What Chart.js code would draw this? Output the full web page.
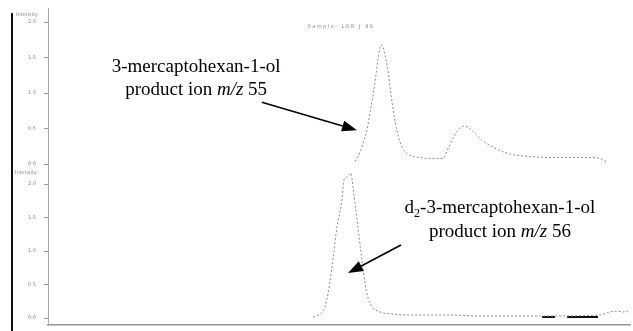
<!DOCTYPE html>
<html>
<head>
<meta charset="utf-8">
<script src="https://cdn.jsdelivr.net/npm/chart.js@4.4.0/dist/chart.umd.min.js"></script>
<style>
  html, body { margin: 0; padding: 0; background: #fff; }
  #wrap { position: relative; width: 633px; height: 331px; }
</style>
</head>
<body>
<div id="wrap"><canvas id="c" width="633" height="331"></canvas></div>
<script>
// retention time (min) and response
const topTimes = [32.555, 32.572, 32.586, 32.596, 32.607, 32.617, 32.627, 32.634, 32.641, 32.646,
  32.658, 32.668, 32.679, 32.689, 32.699, 32.710, 32.723, 32.737, 32.754, 32.778,
  32.806, 32.837, 32.857, 32.875, 32.892, 32.909, 32.923, 32.943, 32.971, 32.991,
  33.019, 33.043, 33.070, 33.112, 33.156, 33.225, 33.284, 33.363, 33.397, 33.421];
const topVals = [0.035, 0.163, 0.333, 0.475, 0.730, 0.972, 1.255, 1.468, 1.638, 1.681,
  1.539, 1.326, 0.972, 0.688, 0.475, 0.305, 0.191, 0.135, 0.106, 0.092,
  0.078, 0.078, 0.078, 0.220, 0.362, 0.475, 0.532, 0.518, 0.418, 0.333,
  0.262, 0.206, 0.163, 0.121, 0.106, 0.092, 0.092, 0.092, 0.078, 0.021];

const botTimes = [32.411, 32.435, 32.452, 32.466, 32.479, 32.493, 32.510, 32.517, 32.527, 32.541,
  32.548, 32.558, 32.569, 32.579, 32.593, 32.610, 32.641, 32.686, 32.734, 32.778,
  32.871, 32.985, 33.098, 33.191, 33.397, 33.431, 33.455, 33.476, 33.493];
const botVals = [0.015, 0.060, 0.164, 0.463, 0.866, 1.358, 1.761, 2.060, 2.104, 2.164,
  1.955, 1.612, 1.209, 0.866, 0.418, 0.194, 0.090, 0.060, 0.045, 0.045,
  0.045, 0.030, 0.030, 0.030, 0.045, 0.090, 0.104, 0.090, 0.104];

// baseline markers on the lower trace
const markTimes = [33.198, 33.242, 33.263, 33.284, 33.390];
const markVals = [0.015, 0.015, null, 0.015, 0.015];

const timeTicks = [31.55, 31.85, 32.15, 32.45, 32.75, 33.05, 33.35];
const topTicks = [0, 0.5, 1.0, 1.5, 2.0];
const botTicks = [0, 0.5, 1.0, 1.5, 2.0];
const sampleName = 'Sample: LOR J 98';
const axisName = 'Intensity';

function pts(xs, ys) {
  return xs.map((t, i) => ({ x: t, y: ys[i] }));
}

// callouts: text block + arrow, placed in data space of their panel
const callouts = [
  { axis: 'yTop', t: 32.009, v: 1.298,
    lines: [[{ s: '3-mercaptohexan-1-ol' }],
            [{ s: 'product ion ' }, { s: 'm/z', it: true }, { s: ' 55' }]],
    from: [32.235, 0.872], to: [32.562, 0.475] },
  { axis: 'yBot', t: 33.053, v: 1.567,
    lines: [[{ s: 'd' }, { s: '2', sub: true }, { s: '-3-mercaptohexan-1-ol' }],
            [{ s: 'product ion ' }, { s: 'm/z', it: true }, { s: ' 56' }]],
    from: [32.713, 1.090], to: [32.531, 0.672] }
];

const FS = 19;
function partFont(p) {
  const size = p.sub ? Math.round(FS * 0.65) : FS;
  return (p.it ? 'italic ' : '') + size + 'px "Liberation Serif", "Times New Roman", serif';
}

function drawLine(ctx, parts, cx, base) {
  let w = 0;
  parts.forEach(p => { ctx.font = partFont(p); p.w = ctx.measureText(p.s).width; w += p.w; });
  let x = cx - w / 2;
  parts.forEach(p => {
    ctx.font = partFont(p);
    ctx.fillText(p.s, x, base + (p.sub ? FS * 0.22 : 0));
    x += p.w;
  });
}

function arrow(ctx, x1, y1, x2, y2) {
  const a = Math.atan2(y2 - y1, x2 - x1);
  const hl = 15, hw = 5.5;
  const bx = x2 - hl * Math.cos(a), by = y2 - hl * Math.sin(a);
  ctx.lineWidth = 1.6;
  ctx.beginPath(); ctx.moveTo(x1, y1); ctx.lineTo(bx, by); ctx.stroke();
  ctx.beginPath();
  ctx.moveTo(x2, y2);
  ctx.lineTo(bx + hw * Math.sin(a), by - hw * Math.cos(a));
  ctx.lineTo(bx - hw * Math.sin(a), by + hw * Math.cos(a));
  ctx.closePath(); ctx.fill();
}

const decor = {
  id: 'decor',
  afterDraw(chart) {
    const ctx = chart.ctx, xs = chart.scales.x;
    ctx.save();
    // frame line on the left
    ctx.fillStyle = '#111';
    ctx.fillRect(11, 13, 2, chart.height - 13);

    // small header texts
    ctx.fillStyle = '#888';
    ctx.font = '5px "DejaVu Sans"';
    ctx.textBaseline = 'middle';
    ctx.textAlign = 'left';
    ctx.fillText(axisName, 16, chart.scales.yTop.top + 7);
    ctx.fillText(axisName, 15, chart.scales.yBot.top + 9);
    ctx.textAlign = 'center';
    ctx.letterSpacing = '1.5px';
    ctx.fillText(sampleName, 341, chart.scales.yTop.top + 19);
    ctx.letterSpacing = '0px';

    // callouts
    ctx.fillStyle = '#000';
    ctx.strokeStyle = '#000';
    ctx.textAlign = 'left';
    ctx.textBaseline = 'alphabetic';
    callouts.forEach(c => {
      const ys = chart.scales[c.axis];
      const cx = xs.getPixelForValue(c.t), base = ys.getPixelForValue(c.v);
      c.lines.forEach((ln, i) => drawLine(ctx, ln, cx, base + i * 23.5));
      arrow(ctx, xs.getPixelForValue(c.from[0]), ys.getPixelForValue(c.from[1]),
                 xs.getPixelForValue(c.to[0]), ys.getPixelForValue(c.to[1]));
    });
    ctx.restore();
  }
};

function yAxis(min, max, weight, ticks) {
  return {
    type: 'linear', position: 'left', stack: 'panels', stackWeight: weight,
    min: min, max: max,
    afterBuildTicks: s => { s.ticks = ticks.map(v => ({ value: v })); },
    // fixed width, and no extra room reserved for end labels
    afterFit: s => { s.width = 48; s.paddingTop = 0; s.paddingBottom = 0; },
    border: { display: true, color: '#aaa', dash: [1, 3], width: 1 },
    grid: { drawOnChartArea: false, tickLength: 4, color: '#999' },
    ticks: { font: { family: 'DejaVu Sans', size: 5 }, color: '#888', padding: 8,
             callback: v => Number(v).toFixed(1) }
  };
}

new Chart(document.getElementById('c'), {
  type: 'line',
  data: {
    datasets: [
      { data: pts(topTimes, topVals), yAxisID: 'yTop', borderColor: '#8a8a8a', borderWidth: 1,
        borderDash: [2, 2], pointRadius: 0, cubicInterpolationMode: 'monotone' },
      { data: pts(botTimes, botVals), yAxisID: 'yBot', borderColor: '#8a8a8a', borderWidth: 1,
        borderDash: [2, 2], pointRadius: 0, cubicInterpolationMode: 'monotone' },
      { data: pts(markTimes, markVals), yAxisID: 'yBot', borderColor: '#111', borderWidth: 2,
        pointRadius: 0, spanGaps: false }
    ]
  },
  options: {
    responsive: false,
    animation: false,
    devicePixelRatio: 1,
    layout: { padding: { top: 8, right: 3, left: 0, bottom: 0 } },
    plugins: { legend: { display: false }, tooltip: { enabled: false }, title: { display: false } },
    scales: {
      x: {
        type: 'linear', min: 31.5, max: 33.5,
        afterBuildTicks: s => { s.ticks = timeTicks.map(v => ({ value: v })); },
        afterFit: s => { s.height = 6; s.paddingLeft = 0; s.paddingRight = 0; },
        border: { display: true, color: '#999', dash: [1.5, 7], width: 1.5 },
        grid: { display: false },
        ticks: { font: { family: 'DejaVu Sans', size: 5 }, color: '#888', padding: 1,
                 maxRotation: 0, autoSkip: false, callback: v => Number(v).toFixed(2) }
      },
      // the stack is laid out last-listed on top, so the lower panel comes first
      yBot: yAxis(-0.104, 2.30, 161, botTicks),
      yTop: yAxis(0, 2.2, 156, topTicks)
    }
  },
  plugins: [decor]
});
</script>
</body>
</html>
